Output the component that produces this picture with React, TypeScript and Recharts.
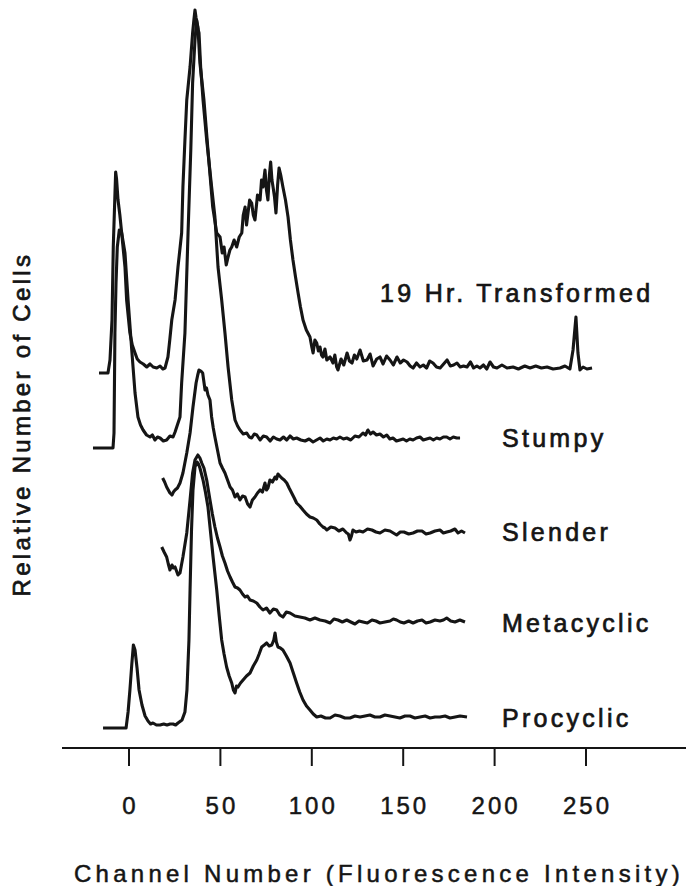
import React from 'react';
import { LineChart, Line, XAxis, YAxis, ReferenceDot, Label } from 'recharts';

const FONT = '"Liberation Sans", Arial, Helvetica, sans-serif';
const INK = '#151515';
const TICK_SIZE = 18;
const TICK_MARGIN = 31;

// x axis: channel number (fluorescence intensity)
const channelTicks = [0, 50, 100, 150, 200, 250];
const channelDomain = [-36.65, 304.7];
// y: relative number of cells (arbitrary units), histograms offset vertically
const countDomain = [0, 748];

const seriesNames = ['19 Hr. Transformed', 'Stumpy', 'Slender', 'Metacyclic', 'Procyclic'];
// vertical offset (baseline) of each histogram
const offsets = [373, 299, 208, 120, 20];
// label anchor: channel where the name starts and lift above the baseline
const labelChannels = [137.3, 204, 204, 204, 204];
const labelLifts = [82, 11, 8, 5, 10];

// [channel, count above its own baseline]
const transformed19: [number, number][] = [
  [-16.4, 2], [-11.5, 2], [-10.4, 15], [-9.3, 55], [-8.6, 128], [-7.7, 180], [-7.3, 203], [-6.8, 196],
  [-6.0, 175], [-5.0, 160], [-4.0, 142], [-3.1, 125], [-2.2, 108], [-1.3, 75], [0.5, 42], [1.8, 30],
  [3.3, 22], [4.5, 16], [6.0, 13], [7.8, 11], [9.7, 8], [11.5, 11], [13.2, 8], [15.2, 7], [17.0, 9],
  [18.5, 6], [19.7, 7], [21.3, 18], [22.3, 35], [23.4, 55], [25.2, 75], [26.8, 108], [28.8, 142],
  [29.5, 188], [30.6, 235], [31.6, 275], [33.4, 308], [34.8, 342], [35.5, 355], [36.1, 365], [36.7, 357],
  [37.7, 348], [38.8, 312], [41.0, 275], [43.2, 225], [45.8, 168], [48.0, 142], [49.8, 138], [51.0, 122],
  [52.0, 128], [53.2, 110], [54.2, 118], [55.2, 125], [56.2, 128], [57.5, 135], [58.9, 128], [60.3, 138],
  [61.7, 142], [62.5, 160], [63.5, 168], [64.3, 150], [65.1, 162], [66.0, 175], [67.1, 172], [68.0, 160],
  [68.9, 155], [70.3, 180], [71.7, 175], [72.5, 195], [73.3, 188], [74.4, 205], [75.2, 185], [76.0, 175],
  [76.8, 200], [77.5, 213], [78.2, 195], [78.8, 188], [79.6, 178], [80.4, 162], [81.3, 190], [82.1, 207],
  [83.0, 200], [84.2, 188], [85.6, 175], [87.0, 158], [88.3, 135], [89.7, 115], [91.1, 98], [92.5, 82],
  [93.8, 68], [95.2, 55], [97.0, 45], [99.0, 38], [100.0, 28], [100.7, 22], [101.7, 35], [102.7, 32],
  [103.6, 24], [104.5, 28], [105.3, 20], [106.1, 18], [107.2, 26], [108.2, 15], [110.0, 18], [111.6, 12],
  [112.6, 20], [113.6, 8], [114.3, 5], [116.0, 16], [117.5, 10], [119.3, 22], [120.6, 14], [122.0, 12],
  [123.3, 20], [124.6, 16], [126.4, 25], [128.2, 14], [130.2, 15], [131.9, 21], [133.5, 9], [135.5, 16],
  [137.3, 18], [139.0, 11], [140.9, 19], [142.8, 15], [144.6, 10], [146.6, 18], [148.4, 12], [150.2, 15],
  [152.1, 13], [153.8, 9], [155.4, 7], [157.3, 12], [159.2, 8], [161.0, 10], [162.8, 7], [164.5, 14],
  [166.3, 12], [168.2, 8], [170.2, 7], [172.1, 11], [174.0, 15], [175.8, 9], [177.6, 10], [179.4, 12],
  [181.2, 8], [183.0, 9], [184.9, 8], [186.8, 13], [188.5, 7], [190.3, 9], [192.0, 7], [193.9, 10],
  [195.7, 6], [197.5, 13], [199.4, 8], [201.3, 7], [204.0, 10], [206.8, 7], [210.1, 8], [213.0, 6],
  [216.5, 9], [219.4, 7], [222.5, 9], [225.6, 7], [228.7, 8], [232.0, 6], [235.8, 7], [238.5, 9],
  [241.2, 6], [242.9, 25], [244.5, 58], [245.6, 22], [246.7, 5], [248.4, 8], [250.5, 6], [253.3, 7],
];

const stumpy: [number, number][] = [
  [-19.7, 1], [-8.75, 1], [-8.2, 16], [-7.7, 116], [-7.1, 166], [-6.4, 202], [-5.3, 219], [-4.0, 216],
  [-3.0, 205], [-2.2, 196], [-0.5, 149], [1.5, 99], [3.3, 56], [4.9, 32], [6.3, 24], [7.7, 19], [9.6, 14],
  [11.5, 12], [12.8, 14], [14.2, 9], [15.6, 12], [17.0, 11], [18.8, 8], [20.6, 9], [22.4, 13], [24.1, 12],
  [25.2, 17], [26.1, 22], [27.9, 32], [28.8, 66], [30.6, 116], [32.3, 216], [33.8, 299], [34.8, 366],
  [36.1, 409], [37.0, 429], [37.7, 420], [38.3, 416], [39.2, 382], [40.5, 349], [42.5, 309], [45.2, 262],
  [47.0, 232], [48.7, 182], [50.7, 149], [52.5, 116], [54.2, 82], [56.2, 49], [58.0, 29], [59.4, 23],
  [60.7, 19], [62.5, 15], [64.4, 16], [65.8, 12], [67.1, 11], [68.5, 15], [69.9, 14], [71.7, 9], [73.5, 13],
  [75.3, 12], [77.2, 8], [79.0, 12], [80.8, 10], [82.6, 9], [84.5, 12], [86.3, 9], [88.1, 13], [89.9, 10],
  [91.7, 11], [94.0, 9], [96.3, 8], [98.5, 10], [100.7, 7], [102.6, 9], [104.5, 11], [106.3, 8], [108.2, 10],
  [110.0, 9], [111.8, 11], [113.6, 10], [115.4, 12], [117.3, 10], [119.1, 11], [121.3, 9], [123.6, 13],
  [125.8, 12], [128.0, 16], [129.4, 14], [130.7, 19], [132.1, 15], [133.5, 17], [135.4, 14], [137.3, 15],
  [139.2, 12], [141.0, 14], [142.7, 10], [144.4, 11], [146.3, 8], [148.2, 9], [150.0, 10], [151.8, 8],
  [153.6, 10], [155.4, 9], [157.3, 11], [159.2, 12], [161.0, 9], [162.8, 10], [164.7, 11], [166.5, 9],
  [168.3, 11], [170.1, 10], [172.0, 12], [173.8, 12], [175.6, 10], [177.4, 12], [179.3, 11], [181.1, 11],
];

const slender: [number, number][] = [
  [18.4, 62], [19.5, 58], [20.6, 53], [21.5, 50], [22.4, 47], [23.5, 45], [24.3, 48], [25.2, 50], [26.5, 52],
  [27.9, 57], [29.5, 67], [31.6, 87], [33.4, 107], [35.0, 133], [36.7, 157], [37.6, 165], [38.3, 170],
  [39.3, 169], [40.3, 167], [41.6, 150], [42.4, 152], [43.2, 145], [44.3, 140], [45.2, 123], [46.1, 112],
  [47.0, 103], [48.4, 90], [49.8, 77], [51.1, 72], [52.5, 67], [53.9, 60], [55.3, 53], [56.6, 50], [58.0, 43],
  [59.3, 46], [60.7, 40], [62.1, 44], [63.5, 43], [64.9, 36], [66.2, 33], [67.5, 40], [68.9, 43], [70.3, 47],
  [71.7, 50], [73.0, 48], [74.4, 57], [75.2, 50], [76.0, 52], [77.1, 60], [78.5, 58], [79.9, 63], [80.7, 61],
  [81.5, 66], [82.5, 64], [83.5, 62], [84.9, 60], [86.3, 57], [87.6, 52], [89.0, 47], [90.4, 42], [91.7, 37],
  [93.4, 34], [95.2, 30], [97.1, 26], [99.0, 23], [100.8, 22], [102.7, 20], [104.4, 16], [106.1, 13],
  [107.2, 12], [108.2, 10], [110.4, 13], [112.7, 12], [114.8, 9], [117.0, 11], [119.1, 7], [120.0, 6],
  [120.9, 0], [121.7, 4], [122.5, 10], [124.2, 8], [126.1, 9], [128.0, 8], [130.5, 11], [132.9, 10],
  [135.1, 8], [137.3, 7], [140.0, 10], [142.8, 9], [144.6, 7], [146.4, 5], [148.4, 8], [150.4, 8], [153.0, 6],
  [155.4, 7], [157.8, 9], [160.3, 9], [162.5, 6], [164.7, 7], [167.4, 9], [170.1, 10], [172.0, 7], [173.8, 8],
  [176.0, 9], [178.3, 11], [180.0, 7], [181.9, 9], [183.8, 7],
];

const metacyclic: [number, number][] = [
  [17.9, 81], [19.2, 76], [20.6, 71], [21.5, 64], [22.4, 58], [23.5, 63], [24.3, 60], [25.2, 61], [26.0, 57],
  [26.8, 53], [27.9, 55], [28.6, 62], [29.5, 71], [31.6, 95], [33.4, 128], [34.8, 155], [36.1, 168],
  [37.7, 173], [38.8, 170], [39.8, 165], [41.0, 160], [42.5, 148], [44.3, 128], [45.6, 114], [47.0, 101],
  [48.4, 90], [49.8, 81], [51.1, 72], [52.5, 65], [53.9, 57], [55.3, 51], [56.6, 46], [58.0, 41], [59.4, 40],
  [60.7, 38], [62.1, 34], [63.5, 31], [64.8, 32], [66.2, 28], [68.0, 27], [69.9, 25], [71.6, 21], [73.3, 18],
  [75.2, 20], [77.1, 15], [79.0, 19], [80.8, 18], [82.5, 13], [84.2, 11], [86.1, 16], [88.1, 15], [90.8, 12],
  [93.5, 11], [96.2, 10], [99.0, 8], [101.7, 10], [104.5, 8], [107.3, 7], [110.0, 5], [112.1, 9], [114.3, 8],
  [116.7, 6], [119.1, 8], [121.3, 6], [123.6, 4], [125.8, 7], [128.0, 6], [130.4, 5], [132.9, 8], [135.1, 7],
  [137.3, 5], [140.0, 6], [142.8, 7], [144.6, 9], [146.4, 8], [148.4, 6], [150.4, 5], [153.0, 7], [155.4, 5],
  [157.8, 7], [160.3, 8], [162.5, 5], [164.7, 6], [167.4, 8], [170.1, 7], [172.0, 8], [173.8, 10], [176.0, 7],
  [178.3, 6], [181.0, 8], [183.8, 6],
];

const procyclic: [number, number][] = [
  [-14.2, 0], [-1.6, 0], [-0.5, 16], [0.5, 38], [1.5, 63], [2.4, 83], [3.3, 78], [4.4, 60], [5.5, 38],
  [7.1, 23], [8.8, 12], [10.4, 7], [11.8, 4], [13.1, 5], [15.0, 3], [17.0, 3], [19.0, 4], [20.8, 3],
  [22.5, 4], [24.1, 4], [25.5, 3], [26.8, 5], [29.0, 8], [30.6, 16], [31.7, 38], [32.8, 88], [33.4, 138],
  [34.2, 198], [35.0, 238], [36.1, 261], [37.2, 266], [38.0, 264], [38.8, 260], [40.5, 248], [41.8, 236],
  [43.2, 221], [44.6, 196], [46.0, 171], [48.0, 138], [49.3, 113], [50.7, 88], [52.0, 74], [53.4, 61],
  [54.8, 52], [56.2, 45], [57.1, 38], [58.0, 35], [58.8, 42], [59.6, 41], [61.0, 45], [62.4, 48], [64.3, 52],
  [66.2, 55], [68.0, 62], [69.9, 68], [71.2, 74], [72.6, 81], [74.0, 83], [75.3, 85], [76.7, 82], [78.1, 83],
  [79.2, 88], [79.9, 95], [80.6, 86], [81.5, 81], [82.8, 80], [84.2, 78], [86.1, 72], [88.1, 65], [89.9, 55],
  [91.7, 45], [93.4, 36], [95.2, 28], [97.1, 22], [99.0, 18], [100.8, 14], [102.7, 11], [105.0, 12],
  [107.5, 10], [110.0, 10], [112.7, 13], [115.4, 12], [118.1, 10], [120.9, 10], [123.6, 12], [126.4, 11],
  [129.1, 12], [131.8, 13], [134.5, 11], [137.3, 11], [140.0, 13], [142.8, 12], [145.5, 11], [148.2, 10],
  [151.0, 12], [153.7, 12], [156.4, 10], [159.2, 11], [162.0, 12], [164.7, 10], [167.4, 11], [170.1, 11],
  [172.9, 12], [175.6, 10], [178.4, 11], [181.1, 12], [184.9, 11],
];

const curves = [transformed19, stumpy, slender, metacyclic, procyclic];

const series = seriesNames.map((name, i) => ({
  name,
  data: curves[i].map(([x, c]) => ({ x, y: offsets[i] + c })),
  labelX: labelChannels[i],
  labelY: offsets[i] + labelLifts[i],
}));

const textStyle: React.CSSProperties = { fontFamily: FONT };

const SeriesLabel = (props: any) => {
  const vb = props.viewBox || {};
  const x = (vb.x || 0) + (vb.width || 0);
  const y = (vb.y || 0) + (vb.height || 0) / 2;
  return (
    <text
      x={x}
      y={y}
      dy="0.36em"
      textAnchor="start"
      fill={INK}
      stroke={INK}
      strokeWidth={0.7}
      fontSize={25}
      letterSpacing={3.3}
      style={textStyle}
    >
      {props.value}
    </text>
  );
};

const XTitle = (props: any) => {
  const vb = props.viewBox || {};
  return (
    <text
      x={vb.x + 12}
      y={vb.y + vb.height - 4}
      textAnchor="start"
      fill={INK}
      stroke={INK}
      strokeWidth={0.5}
      fontSize={24}
      letterSpacing={4.25}
      style={textStyle}
    >
      Channel Number (Fluorescence Intensity)
    </text>
  );
};

const YTitle = (props: any) => {
  const vb = props.viewBox || {};
  const cx = vb.x + 21;
  const cy = vb.y + vb.height * 0.567;
  return (
    <text
      x={cx}
      y={cy}
      dy="0.36em"
      textAnchor="middle"
      transform={`rotate(-90, ${cx}, ${cy})`}
      fill={INK}
      stroke={INK}
      strokeWidth={0.7}
      fontSize={24}
      letterSpacing={3.3}
      style={textStyle}
    >
      Relative Number of Cells
    </text>
  );
};

const ChannelTick = (props: any) => {
  const { x, y, payload } = props;
  return (
    <g>
      <line
        x1={x}
        x2={x}
        y1={y - TICK_MARGIN - TICK_SIZE}
        y2={y - TICK_MARGIN}
        stroke={INK}
        strokeWidth={2}
      />
      <text
        x={x + 1.5}
        y={y}
        dy="0.71em"
        textAnchor="middle"
        fill={INK}
        stroke={INK}
        strokeWidth={0.5}
        fontSize={24}
        letterSpacing={3}
        style={textStyle}
      >
        {payload.value}
      </text>
    </g>
  );
};

export default function App() {
  return (
    <div style={{ position: 'absolute', left: 0, top: 0, width: 686, height: 886, background: '#fff' }}>
      <LineChart width={686} height={886} margin={{ top: 0, right: 0, bottom: 0, left: 0 }}>
        <XAxis
          dataKey="x"
          type="number"
          domain={channelDomain}
          ticks={channelTicks}
          interval={0}
          allowDataOverflow
          height={138}
          tickSize={TICK_SIZE}
          tickMargin={TICK_MARGIN}
          axisLine={{ stroke: INK, strokeWidth: 2 }}
          tickLine={false}
          tick={<ChannelTick />}
          label={<Label content={XTitle} />}
        />
        <YAxis
          type="number"
          domain={countDomain}
          allowDataOverflow
          width={62}
          tick={false}
          tickLine={false}
          axisLine={false}
          label={<Label content={YTitle} />}
        />
        {series.map((s) => (
          <Line
            key={s.name}
            name={s.name}
            data={s.data}
            dataKey="y"
            type="linear"
            stroke={INK}
            strokeWidth={3.1}
            strokeLinejoin="round"
            dot={false}
            activeDot={false}
            isAnimationActive={false}
          />
        ))}
        {series.map((s) => (
          <ReferenceDot
            key={`lbl-${s.name}`}
            x={s.labelX}
            y={s.labelY}
            r={0}
            fill="none"
            stroke="none"
            ifOverflow="visible"
            label={<Label value={s.name} content={SeriesLabel} />}
          />
        ))}
      </LineChart>
    </div>
  );
}
